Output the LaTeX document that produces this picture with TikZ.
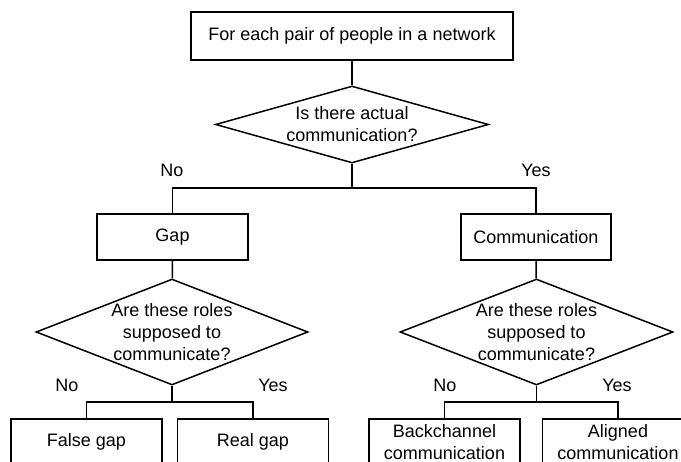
\documentclass[tikz,border=0pt]{standalone}
\usepackage{fontspec}
\setmainfont{Liberation Sans}
\usetikzlibrary{shapes.geometric}
\begin{document}
\begin{tikzpicture}[x=1pt,y=-1pt,
  every node/.style={font=\fontsize{18}{22}\selectfont},
  box/.style={draw, line width=1.5pt, inner sep=0pt, minimum width=151pt, minimum height=46pt, align=center},
  decision/.style={draw, diamond, line width=1.5pt, inner sep=0pt},
  question/.style={label={[align=center, inner sep=0pt]center:#1}},
  link/.style={line width=1.5pt},
  answer/.style={inner sep=0pt}]
\useasboundingbox (0,0) rectangle (681,462);
\clip (0,0) rectangle (681,462);

% start
\node[box, minimum width=322pt, minimum height=48pt] (start) at (352,36) {For each pair of people in a network};
\node[decision, minimum width=273pt, minimum height=77pt,
  question={Is there actual\\communication?}] (q1) at (352,124.5) {};

% second level
\node[box] (gap) at (172.5,237) {Gap};
\node[box, minimum width=150pt] (comm) at (536,237) {Communication};
\node[decision, minimum width=272pt, minimum height=106pt,
  question={Are these roles\\supposed to\\communicate?}] (q2) at (172,332) {};
\node[decision, minimum width=273pt, minimum height=106pt,
  question={Are these roles\\supposed to\\communicate?}] (q3) at (536.5,332) {};

% outcomes
\node[box] (falsegap) at (86.5,442) {False gap};
\node[box] (realgap) at (253,442) {Real gap};
\node[box] (backch) at (444.5,442) {Backchannel\\communication};
\node[box] (aligned) at (618,442) {Aligned\\communication};

% junction points
\coordinate (j1) at (352,188);
\coordinate (j2) at (172,402);
\coordinate (j3) at (536.5,402);

% connectors
\draw[link] (start) -- (q1);
\draw[link] (q1) -- (j1);
\draw[link] (gap.north) |- (j1) -| (comm.north);
\draw[link] (gap) -- (q2);
\draw[link] (comm) -- (q3);
\draw[link] (q2) -- (j2);
\draw[link] (falsegap.north) |- (j2) -| (realgap.north);
\draw[link] (q3) -- (j3);
\draw[link] (backch.north) |- (j3) -| (aligned.north);

% branch answers
\node[answer] (no1) at (172,170) {No};
\node[answer] (yes1) at (536,170) {Yes};
\node[answer] (no2) at (67,385) {No};
\node[answer] (yes2) at (273,385) {Yes};
\node[answer] (no3) at (445,385) {No};
\node[answer] (yes3) at (617,385) {Yes};
\end{tikzpicture}
\end{document}
